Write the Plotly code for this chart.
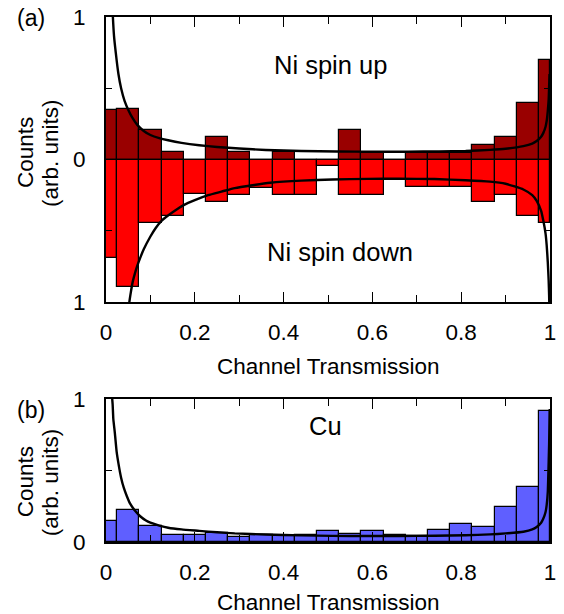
import plotly.graph_objects as go

# ---------------- data ----------------
bin_edges = [0.0, 0.025, 0.075, 0.125, 0.175, 0.225, 0.275, 0.325, 0.375, 0.425, 0.475,
             0.525, 0.575, 0.625, 0.675, 0.725, 0.775, 0.825, 0.875, 0.925, 0.975, 1.0]

ni_up = [0.35, 0.355, 0.205, 0.05, 0.0, 0.157, 0.05, 0.0, 0.05, 0.0, 0.0,
         0.205, 0.047, 0.0, 0.047, 0.047, 0.047, 0.105, 0.157, 0.40, 0.70]

ni_down = [0.69, 0.894, 0.444, 0.398, 0.241, 0.297, 0.246, 0.199, 0.246, 0.246, 0.047,
           0.246, 0.246, 0.147, 0.194, 0.194, 0.194, 0.297, 0.246, 0.398, 0.444]

cu = [0.148, 0.227, 0.115, 0.047, 0.047, 0.063, 0.035, 0.052, 0.040, 0.052, 0.075,
      0.054, 0.080, 0.052, 0.040, 0.087, 0.124, 0.103, 0.244, 0.386, 0.913]

up_curve_x = [0.0148, 0.0155, 0.018, 0.022, 0.028, 0.034, 0.042, 0.05, 0.06, 0.07, 0.085,
              0.1, 0.12, 0.14, 0.17, 0.21, 0.25, 0.3, 0.36, 0.44, 0.52, 0.6, 0.68, 0.75,
              0.81, 0.865, 0.9, 0.94, 0.96, 0.97, 0.98, 0.985, 0.99, 0.9925, 0.995, 0.997,
              0.998, 0.999]
up_curve_y = [1.05, 1.0, 0.87, 0.75, 0.6, 0.5, 0.41, 0.35, 0.29, 0.245, 0.2,
              0.172, 0.15, 0.135, 0.117, 0.1, 0.088, 0.077, 0.067, 0.06, 0.056, 0.055, 0.055, 0.057,
              0.06, 0.068, 0.076, 0.094, 0.112, 0.13, 0.16, 0.187, 0.23, 0.27, 0.34, 0.42,
              0.51, 0.6]

down_curve_x = [0.051, 0.0526, 0.056, 0.06, 0.065, 0.07, 0.077, 0.085, 0.1, 0.112, 0.125,
                0.15, 0.175, 0.2, 0.23, 0.26, 0.29, 0.33, 0.37, 0.44, 0.51, 0.59, 0.66,
                0.74, 0.81, 0.865, 0.9, 0.94, 0.96, 0.97, 0.98, 0.985, 0.99, 0.9925, 0.995,
                0.997, 0.998, 0.9985]
down_curve_y = [-1.05, -1.0, -0.93, -0.86, -0.8, -0.75, -0.69, -0.63, -0.54, -0.48, -0.43,
                -0.37, -0.32, -0.285, -0.25, -0.225, -0.2, -0.18, -0.163, -0.148, -0.14, -0.136, -0.135,
                -0.137, -0.145, -0.155, -0.17, -0.21, -0.25, -0.29, -0.36, -0.43, -0.52, -0.6, -0.72,
                -0.85, -0.95, -1.02]

cu_curve_x = [0.0135, 0.015, 0.0165, 0.02, 0.024, 0.028, 0.034, 0.04, 0.047, 0.054, 0.065,
              0.077, 0.09, 0.1, 0.12, 0.14, 0.17, 0.21, 0.25, 0.29, 0.36, 0.44, 0.51, 0.59,
              0.66, 0.74, 0.81, 0.865, 0.9, 0.94, 0.96, 0.97, 0.98, 0.985, 0.99, 0.9925,
              0.995, 0.996, 0.998, 0.9995]
cu_curve_y = [1.02, 0.96, 0.86, 0.76, 0.63, 0.55, 0.45, 0.38, 0.32, 0.27, 0.22,
              0.18, 0.15, 0.135, 0.115, 0.1, 0.088, 0.078, 0.068, 0.06, 0.052, 0.046, 0.043, 0.042,
              0.042, 0.044, 0.047, 0.053, 0.06, 0.072, 0.088, 0.105, 0.135, 0.164, 0.21, 0.258,
              0.35, 0.445, 0.68, 0.93]

x_ticks = [0, 0.2, 0.4, 0.6, 0.8, 1]
x_ticklabels = ["0", "0.2", "0.4", "0.6", "0.8", "1"]

# ---------------- figure ----------------
centers = [(a + b) / 2 for a, b in zip(bin_edges[:-1], bin_edges[1:])]
widths = [b - a for a, b in zip(bin_edges[:-1], bin_edges[1:])]

FONT = "Liberation Sans, Arial, sans-serif"
AX = 22.5
fig = go.Figure()

bar_line = dict(color="black", width=1.2)
fig.add_trace(go.Bar(x=centers, y=ni_up, width=widths, marker=dict(color="#990000", line=bar_line),
                     xaxis="x", yaxis="y", showlegend=False))
fig.add_trace(go.Bar(x=centers, y=[-v for v in ni_down], width=widths,
                     marker=dict(color="#FF0000", line=bar_line),
                     xaxis="x", yaxis="y", showlegend=False))
fig.add_trace(go.Bar(x=centers, y=cu, width=widths, marker=dict(color="#5F5FFF", line=bar_line),
                     xaxis="x2", yaxis="y2", showlegend=False))

curve_line = dict(color="black", width=2.4, shape="spline", smoothing=0.5)
fig.add_trace(go.Scatter(x=up_curve_x, y=up_curve_y, mode="lines", line=curve_line,
                         xaxis="x", yaxis="y", showlegend=False))
fig.add_trace(go.Scatter(x=down_curve_x, y=down_curve_y, mode="lines", line=curve_line,
                         xaxis="x", yaxis="y", showlegend=False))
fig.add_trace(go.Scatter(x=cu_curve_x, y=cu_curve_y, mode="lines", line=curve_line,
                         xaxis="x2", yaxis="y2", showlegend=False))

xax = dict(range=[0, 1], tickvals=x_ticks, ticktext=x_ticklabels, ticks="inside", ticklen=10,
           tickwidth=1.2, tickcolor="black", showline=True, linecolor="black", linewidth=2,
           mirror="allticks", showgrid=False, zeroline=False, ticklabelstandoff=9,
           automargin=False, fixedrange=True,
           tickfont=dict(family=FONT, size=AX, color="black"),
           minor=dict(dtick=0.1, tick0=0, ticks="inside", ticklen=7, tickwidth=1.2,
                      tickcolor="black", showgrid=False))

yax = dict(ticks="inside", ticklen=6, tickwidth=1.2, tickcolor="black", showline=True,
           linecolor="black", linewidth=2, mirror="allticks", showgrid=False, zeroline=False,
           ticklabelstandoff=14, automargin=False, fixedrange=True,
           tickfont=dict(family=FONT, size=AX, color="black"))

fig.update_layout(
    width=564, height=614,
    margin=dict(l=106, r=14, t=17, b=72),
    paper_bgcolor="white", plot_bgcolor="white",
    barmode="overlay", bargap=0,
    xaxis=dict(xax, anchor="y", domain=[0, 1]),
    xaxis2=dict(xax, anchor="y2", domain=[0, 1]),
    yaxis=dict(yax, domain=[0.457, 1.0], range=[-1, 1], tickvals=[-1, -0.5, 0, 0.5, 1],
               ticktext=["1", "", "0", "", "1"], anchor="x"),
    yaxis2=dict(yax, domain=[0, 0.2724], range=[0, 1], tickvals=[0, 0.5, 1],
                ticktext=["0", "", "1"], anchor="x2"),
    font=dict(family=FONT, color="black"),
)

ann_font = dict(family=FONT, size=AX, color="black")
label_font = dict(family=FONT, size=25.5, color="black")


def ann(text, x, y, xref, yref, font, angle=0):
    return dict(text=text, x=x, y=y, xref=xref, yref=yref, showarrow=False, font=font,
                xanchor="center", yanchor="middle", textangle=angle)


annotations = [
    ann("Ni spin up", 0.505, 0.66, "x", "y", label_font),
    ann("Ni spin down", 0.527, -0.646, "x", "y", label_font),
    ann("Cu", 0.495, 0.81, "x2", "y2", label_font),
    ann("(a)", -0.17, 0.998, "paper", "paper", dict(family=FONT, size=23, color="black")),
    ann("(b)", -0.17, 0.251, "paper", "paper", dict(family=FONT, size=23, color="black")),
    ann("Counts", -0.180, 0.741, "paper", "paper", ann_font, -90),
    ann("(arb. units)", -0.124, 0.741, "paper", "paper", ann_font, -90),
    ann("Counts", -0.182, 0.114, "paper", "paper", ann_font, -90),
    ann("(arb. units)", -0.126, 0.114, "paper", "paper", ann_font, -90),
    ann("Channel Transmission", 0.502, 0.334, "paper", "paper", ann_font),
    ann("Channel Transmission", 0.502, -0.1143, "paper", "paper", ann_font),
]
fig.update_layout(annotations=annotations)

fig.write_html("out.html", config={"displayModeBar": False},
               post_script="document.body.style.margin='0px';document.body.style.padding='0px';")
